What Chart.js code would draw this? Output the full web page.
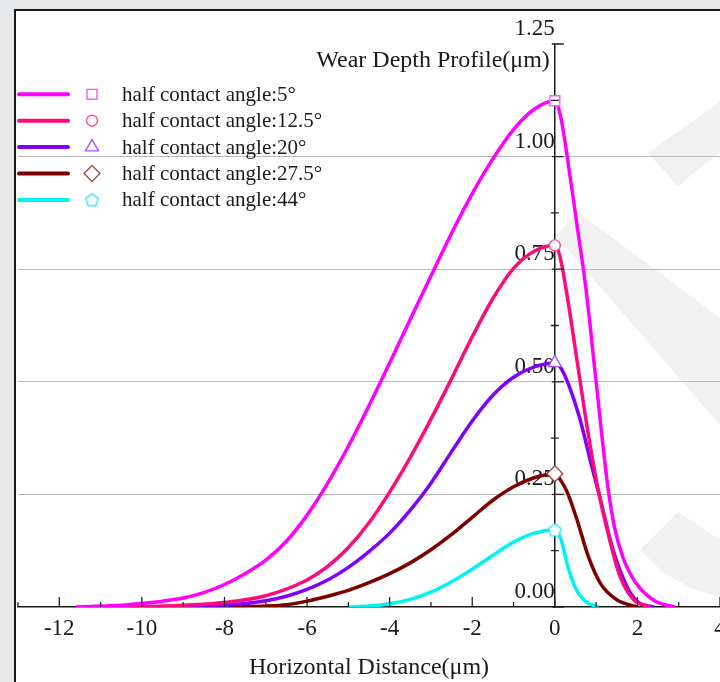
<!DOCTYPE html>
<html>
<head>
<meta charset="utf-8">
<title>Wear Depth Profile</title>
<script src="https://cdn.jsdelivr.net/npm/chart.js@4.4.0/dist/chart.umd.min.js"></script>
<style>
  html, body { margin: 0; padding: 0; background: #e7e8ea; overflow: hidden; }
  #wrap { width: 720px; height: 682px; position: relative; }
</style>
</head>
<body>
<div id="wrap"><canvas id="grafico"></canvas></div>
<script>
// Nombres de las series
const seriesNames = [
  "half contact angle:5°",
  "half contact angle:12.5°",
  "half contact angle:20°",
  "half contact angle:27.5°",
  "half contact angle:44°"
];

// Perfiles (x en µm, profundidad en µm)
const x5 = [-11.6, -11, -10.5, -10, -9.5, -9, -8.5, -8, -7.5, -7, -6.5, -6, -5.5, -5, -4.5, -4, -3.5, -3, -2.5, -2, -1.5, -1, -0.5, 0, 0.15, 0.3, 0.55, 0.75, 1.0, 1.28, 1.45, 1.65, 1.85, 2.05, 2.45, 2.9];
const y5 = [0, 0.002, 0.004, 0.008, 0.013, 0.02, 0.032, 0.05, 0.074, 0.104, 0.146, 0.204, 0.275, 0.357, 0.447, 0.542, 0.639, 0.735, 0.83, 0.918, 0.995, 1.06, 1.105, 1.124, 1.085, 1.0, 0.84, 0.71, 0.5, 0.27, 0.175, 0.11, 0.07, 0.043, 0.012, 0];

const x12 = [-10.5, -9.5, -9, -8, -7, -6, -5.5, -5, -4.5, -4, -3.5, -3, -2.5, -2, -1.5, -1, -0.5, 0, 0.12, 0.3, 0.55, 0.8, 1.05, 1.3, 1.57, 1.9, 2.3];
const y12 = [0, 0.002, 0.004, 0.01, 0.025, 0.06, 0.09, 0.132, 0.187, 0.255, 0.332, 0.417, 0.507, 0.6, 0.685, 0.752, 0.79, 0.803, 0.78, 0.69, 0.54, 0.39, 0.26, 0.16, 0.07, 0.017, 0];

const x20 = [-9.2, -8.5, -8, -7, -6.5, -6, -5.5, -5, -4.5, -4, -3.5, -3, -2.5, -2, -1.5, -1, -0.5, 0, 0.15, 0.35, 0.6, 0.9, 1.1, 1.4, 1.75, 2.0, 2.4];
const y20 = [0, 0.002, 0.004, 0.014, 0.024, 0.039, 0.06, 0.088, 0.123, 0.164, 0.215, 0.275, 0.345, 0.413, 0.47, 0.51, 0.533, 0.542, 0.53, 0.49, 0.42, 0.31, 0.24, 0.13, 0.045, 0.012, 0];

const x27 = [-7.8, -7, -6.5, -6, -5.5, -5, -4.5, -4, -3.5, -3, -2.5, -2, -1.5, -1, -0.5, 0, 0.15, 0.3, 0.55, 0.8, 1.1, 1.5, 2.0];
const y27 = [0, 0.002, 0.005, 0.013, 0.024, 0.037, 0.054, 0.074, 0.098, 0.127, 0.161, 0.199, 0.237, 0.267, 0.287, 0.296, 0.28, 0.255, 0.19, 0.115, 0.053, 0.016, 0];

const x44 = [-5, -4.5, -4, -3.5, -3, -2.5, -2, -1.5, -1, -0.5, 0, 0.15, 0.3, 0.5, 0.75, 1.05];
const y44 = [0, 0.002, 0.007, 0.017, 0.033, 0.056, 0.084, 0.115, 0.144, 0.164, 0.171, 0.15, 0.095, 0.042, 0.012, 0];

// Marcas de los ejes
const xTickValues = [-12, -10, -8, -6, -4, -2, 0, 2, 4];
const xMinorTicks = [-13, -11, -9, -7, -5, -3, -1, 1, 3];
const yTickValues = [0, 0.25, 0.5, 0.75, 1.0, 1.25];
const yMinorTicks = [0.125, 0.375, 0.625, 0.875, 1.125];

const fuente = "'Liberation Serif', 'Times New Roman', serif";
const colorTexto = "#1a1a1a";

function puntos(xs, ys) {
  return xs.map((v, i) => ({ x: v, y: ys[i] }));
}

// Pentágono para el marcador de 44°
function pentagono(color) {
  const c = document.createElement("canvas");
  c.width = 17;
  c.height = 17;
  const g = c.getContext("2d");
  g.beginPath();
  for (let i = 0; i < 5; i++) {
    const a = -Math.PI / 2 + (i * 2 * Math.PI) / 5;
    const px = 8.5 + 6.6 * Math.cos(a);
    const py = 9 + 6.6 * Math.sin(a);
    if (i === 0) g.moveTo(px, py);
    else g.lineTo(px, py);
  }
  g.closePath();
  g.fillStyle = "#fff";
  g.fill();
  g.lineWidth = 1.4;
  g.strokeStyle = color;
  g.stroke();
  return c;
}

const estilos = [
  { line: "#ff00ff", mark: "#ff55ff", shape: "rect", r: 7 },
  { line: "#ff0a7a", mark: "#ff4d8c", shape: "circle", r: 5.5 },
  { line: "#8000ff", mark: "#a552ff", shape: "triangle", r: 7.5 },
  { line: "#7d0000", mark: "#a94a4a", shape: "rectRot", r: 8 },
  { line: "#00f4f4", mark: "#2ee8f0", shape: pentagono("#2ee8f0"), r: 6.5 }
];

const datosSeries = [puntos(x5, y5), puntos(x12, y12), puntos(x20, y20), puntos(x27, y27), puntos(x44, y44)];

const datasets = datosSeries.map((d, i) => ({
  label: seriesNames[i],
  data: d,
  borderColor: estilos[i].line,
  borderWidth: 3.5,
  cubicInterpolationMode: "monotone",
  pointStyle: estilos[i].shape,
  pointRadius: (ctx) => (ctx.raw && ctx.raw.x === 0 ? estilos[i].r : 0),
  pointBackgroundColor: "#fff",
  pointBorderColor: estilos[i].mark,
  pointBorderWidth: 1.4,
  fill: false
}));

// Fondo, marco y marca de agua
const fondo = {
  id: "fondo",
  beforeDraw(chart) {
    const { ctx, width, height } = chart;
    ctx.save();
    ctx.fillStyle = "#e7e8ea";
    ctx.fillRect(0, 0, width, height);
    ctx.fillStyle = "#ffffff";
    ctx.fillRect(15, 10, width - 15, height - 10);

    ctx.fillStyle = "#f1f1f1";
    const formas = [
      [[648, 153], [720, 102], [720, 152], [678, 186]],
      [[556, 236], [578, 212], [720, 318], [720, 425]],
      [[640, 550], [678, 512], [720, 540], [720, 597], [690, 588], [662, 572]]
    ];
    formas.forEach((f) => {
      ctx.beginPath();
      f.forEach((p, i) => (i ? ctx.lineTo(p[0], p[1]) : ctx.moveTo(p[0], p[1])));
      ctx.closePath();
      ctx.fill();
    });

    ctx.strokeStyle = "#1a1a1a";
    ctx.lineWidth = 2;
    ctx.beginPath();
    ctx.moveTo(15, height);
    ctx.lineTo(15, 10);
    ctx.lineTo(width, 10);
    ctx.stroke();
    ctx.restore();
  }
};

// Marcas mayores y menores en los ejes
const marcasEjes = {
  id: "marcasEjes",
  afterDatasetsDraw(chart) {
    const { ctx, scales } = chart;
    const x0 = scales.x.getPixelForValue(0);
    const y0 = scales.y.getPixelForValue(0);
    ctx.save();
    ctx.strokeStyle = "#222";
    ctx.lineWidth = 1.3;
    ctx.beginPath();
    xTickValues.forEach((v) => {
      const p = scales.x.getPixelForValue(v);
      ctx.moveTo(p, y0);
      ctx.lineTo(p, y0 - 10);
    });
    xMinorTicks.forEach((v) => {
      const p = scales.x.getPixelForValue(v);
      ctx.moveTo(p, y0);
      ctx.lineTo(p, y0 - 5);
    });
    yTickValues.forEach((v) => {
      const p = scales.y.getPixelForValue(v);
      ctx.moveTo(x0 - 3, p);
      ctx.lineTo(x0 + 9, p);
    });
    yMinorTicks.forEach((v) => {
      const p = scales.y.getPixelForValue(v);
      ctx.moveTo(x0 - 4, p);
      ctx.lineTo(x0 + 4, p);
    });
    ctx.stroke();
    ctx.restore();
  }
};

// Leyenda y título del eje Y
const leyenda = {
  id: "leyenda",
  afterDraw(chart) {
    const { ctx, scales } = chart;
    ctx.save();
    ctx.font = "24px " + fuente;
    ctx.fillStyle = colorTexto;
    ctx.textAlign = "right";
    ctx.textBaseline = "alphabetic";
    ctx.fillText("Wear Depth Profile(μm)", scales.x.getPixelForValue(0) - 5, 67);

    ctx.font = "21px " + fuente;
    ctx.textAlign = "left";
    ctx.textBaseline = "middle";
    seriesNames.forEach((nombre, i) => {
      const yy = 94.3 + i * 26.4;
      ctx.strokeStyle = estilos[i].line;
      ctx.lineWidth = 4;
      ctx.lineCap = "round";
      ctx.beginPath();
      ctx.moveTo(19, yy);
      ctx.lineTo(68, yy);
      ctx.stroke();

      ctx.fillStyle = "#fff";
      ctx.strokeStyle = estilos[i].mark;
      ctx.lineWidth = 1.4;
      Chart.helpers.drawPoint(ctx, { pointStyle: estilos[i].shape, radius: estilos[i].r, rotation: 0, borderWidth: 1.4 }, 92, yy);

      ctx.fillStyle = colorTexto;
      ctx.fillText(nombre, 122, yy + 1);
    });
    ctx.restore();
  }
};

new Chart(document.getElementById("grafico"), {
  type: "line",
  data: { datasets },
  plugins: [fondo, marcasEjes, leyenda],
  options: {
    responsive: true,
    maintainAspectRatio: false,
    animation: false,
    events: [],
    layout: { padding: { left: 18, top: 44, right: 0, bottom: 0 } },
    plugins: {
      legend: { display: false },
      tooltip: { enabled: false }
    },
    scales: {
      x: {
        type: "linear",
        position: "bottom",
        min: -13,
        max: 4,
        afterBuildTicks: (scale) => {
          scale.ticks = xTickValues.map((v) => ({ value: v }));
        },
        afterFit: (scale) => {
          scale.paddingLeft = 0;
          scale.paddingRight = 0;
          scale.height = 75;
        },
        grid: { display: false, drawTicks: false },
        border: { display: true, color: "#1a1a1a", width: 1.5 },
        ticks: {
          padding: 8,
          maxRotation: 0,
          autoSkip: false,
          color: colorTexto,
          font: { family: fuente, size: 23 },
          callback: (v) => String(v)
        },
        title: {
          display: true,
          text: "Horizontal Distance(μm)",
          color: colorTexto,
          font: { family: fuente, size: 24 },
          padding: { top: 0, bottom: 0 }
        }
      },
      y: {
        type: "linear",
        position: { x: 0 },
        min: 0,
        max: 1.25,
        afterBuildTicks: (scale) => {
          scale.ticks = yTickValues.map((v) => ({ value: v }));
        },
        grid: {
          drawTicks: false,
          lineWidth: 1,
          color: (ctx) => (ctx.tick && ctx.tick.value > 0 && ctx.tick.value < 1.25 ? "#b8b8b8" : "rgba(0,0,0,0)")
        },
        border: { display: true, color: "#1a1a1a", width: 1.5 },
        ticks: {
          padding: 3,
          labelOffset: -15,
          autoSkip: false,
          color: colorTexto,
          font: { family: fuente, size: 23 },
          callback: (v) => Number(v).toFixed(2)
        }
      }
    }
  }
});
</script>
</body>
</html>
